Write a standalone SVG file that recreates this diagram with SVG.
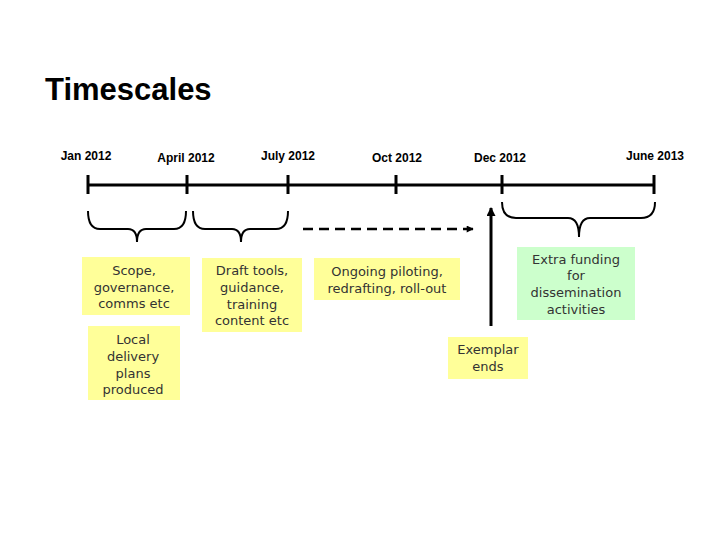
<svg xmlns="http://www.w3.org/2000/svg" width="720" height="540" viewBox="0 0 720 540">
<style>
.title{font-family:"Liberation Sans",Arial,sans-serif;font-weight:bold;font-size:31px;fill:#000}
.date{font-family:"Liberation Sans",Arial,sans-serif;font-weight:bold;font-size:12px;fill:#000;text-anchor:middle}
.bx{font-family:"DejaVu Sans",sans-serif;font-size:13px;fill:#333;text-anchor:middle}
.y{fill:#ffff99}
.g{fill:#ccffcc}
.ln{stroke:#000;stroke-width:3;fill:none}
.br{stroke:#000;stroke-width:2;fill:none}
</style>
<defs>
<marker id="ah" viewBox="0 0 10 10" refX="9" refY="5" markerWidth="8" markerHeight="7" orient="auto" markerUnits="userSpaceOnUse">
<path d="M0,0 L10,5 L0,10 z" fill="#000"/>
</marker>
<marker id="ahv" viewBox="0 0 10 10" refX="9" refY="5" markerWidth="11" markerHeight="9" orient="auto" markerUnits="userSpaceOnUse">
<path d="M0,0 L10,5 L0,10 z" fill="#000"/>
</marker>
</defs>
<rect width="720" height="540" fill="#fff"/>
<text class="title" x="45" y="100">Timescales</text>
<g id="timeline">
<path class="ln" d="M88,185 H655"/>
<path class="ln" d="M88,175 V194 M187,175 V194 M288,175 V194 M396,175 V194 M502,175 V194 M654,175 V194"/>
<text class="date" x="86" y="160">Jan 2012</text>
<text class="date" x="186" y="162">April 2012</text>
<text class="date" x="288" y="160">July 2012</text>
<text class="date" x="397" y="162">Oct 2012</text>
<text class="date" x="500" y="162">Dec 2012</text>
<text class="date" x="655" y="160">June 2013</text>
</g>
<g id="connectors">
<path class="br" d="M88,211 Q88,229 100,229 L128,229 Q137,229 137,242 Q137,229 146,229 L174,229 Q186,229 186,211"/>
<path class="br" d="M193,211 Q193,229 205,229 L232,229 Q241,229 241,242 Q241,229 250,229 L276,229 Q288,229 288,211"/>
<path class="br" d="M502,202 Q502,218 516,218 L568,218 Q579,218 579,237 Q579,218 590,218 L641,218 Q655,218 655,202"/>
<path stroke="#000" stroke-width="2.5" fill="none" stroke-dasharray="10,6" d="M303,229 H473" marker-end="url(#ah)"/>
<path class="ln" d="M491,326 V208" marker-end="url(#ahv)"/>
</g>
<g id="scope">
<rect class="y" x="82" y="257" width="108" height="58"/>
<text class="bx" x="134" y="275">Scope,</text>
<text class="bx" x="134" y="292">governance,</text>
<text class="bx" x="134" y="308">comms etc</text>
</g>
<g id="local">
<rect class="y" x="88" y="326" width="92" height="74"/>
<text class="bx" x="133" y="344">Local</text>
<text class="bx" x="133" y="361">delivery</text>
<text class="bx" x="133" y="378">plans</text>
<text class="bx" x="133" y="394">produced</text>
</g>
<g id="draft">
<rect class="y" x="202" y="258" width="100" height="74"/>
<text class="bx" x="252" y="275">Draft tools,</text>
<text class="bx" x="252" y="292">guidance,</text>
<text class="bx" x="252" y="309">training</text>
<text class="bx" x="252" y="325">content etc</text>
</g>
<g id="ongoing">
<rect class="y" x="314" y="258" width="146" height="42"/>
<text class="bx" x="387" y="276">Ongoing piloting,</text>
<text class="bx" x="387" y="293">redrafting, roll-out</text>
</g>
<g id="extra">
<rect class="g" x="517" y="247" width="118" height="73"/>
<text class="bx" x="576" y="264">Extra funding</text>
<text class="bx" x="576" y="280">for</text>
<text class="bx" x="576" y="297">dissemination</text>
<text class="bx" x="576" y="314">activities</text>
</g>
<g id="exemplar">
<rect class="y" x="448" y="337" width="80" height="42"/>
<text class="bx" x="488" y="354">Exemplar</text>
<text class="bx" x="488" y="371">ends</text>
</g>
</svg>
